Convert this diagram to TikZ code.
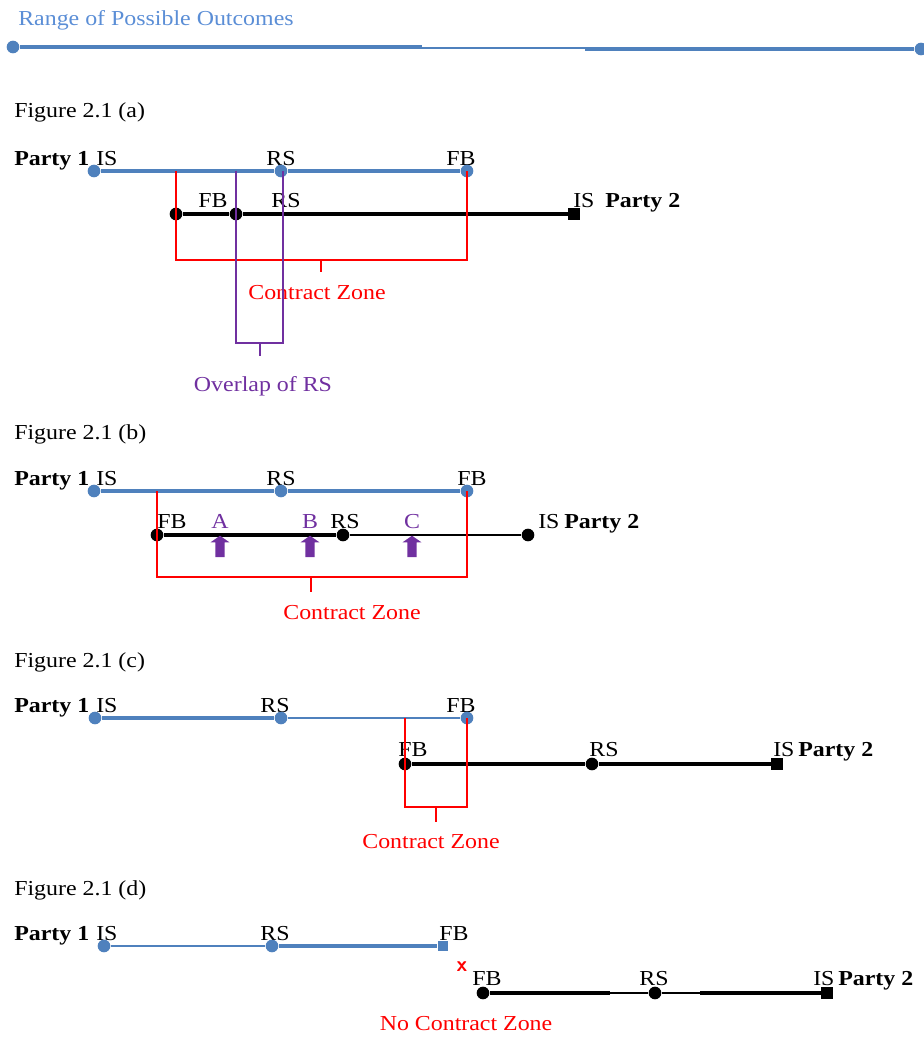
\documentclass[tikz,border=0pt]{standalone}
\usepackage{fontspec}
\setmainfont{Liberation Serif}[FakeStretch=1.12]
\usetikzlibrary{shapes.arrows}
\definecolor{lblue}{HTML}{4F81BD}
\definecolor{tblue}{HTML}{5B8ED6}
\definecolor{ppl}{HTML}{7030A0}
\definecolor{rd}{HTML}{FF0000}
\begin{document}
\begin{tikzpicture}[x=0.75pt,y=-0.75pt,
  txt/.style={inner sep=0pt,anchor=base,font=\fontsize{16}{19}\selectfont},
  ltxt/.style={txt,anchor=base west},
  bold/.style={txt,anchor=base west,font=\fontsize{16}{19}\selectfont\bfseries},
  bdot/.style={circle,fill=lblue,inner sep=0pt,minimum size=9.5pt},
  kdot/.style={circle,fill=black,inner sep=0pt,minimum size=9.5pt},
  bsq/.style={rectangle,fill=lblue,inner sep=0pt,minimum size=8pt},
  ksq/.style={rectangle,fill=black,inner sep=0pt,minimum size=8.5pt},
  bthick/.style={lblue,line width=3.2pt},
  bthin/.style={lblue,line width=1.6pt},
  kthick/.style={black,line width=2.6pt},
  kthin/.style={black,line width=1pt},
  rbr/.style={rd,line width=1.2pt},
  pbr/.style={ppl,line width=1.2pt},
  uparr/.style={single arrow,fill=ppl,draw=none,shape border rotate=90,minimum height=16pt,inner sep=3.3pt,single arrow head extend=3.6pt,single arrow tip angle=110}
]
\useasboundingbox (0,0) rectangle (923,1037);
% Title
\node[ltxt,text=tblue] (title) at (18,26) {Range of Possible Outcomes};
\node[bdot] (t0) at (13,47) {};
\node[bdot] (t3) at (921,49) {};
\coordinate (t1) at (422,47);
\coordinate (t2) at (585,49);
\draw[bthick] (t0) -- (t1);
\draw[lblue,line width=2pt] (422,48) -- (585,48);
\draw[bthick] (t2) -- (t3);

% ---------- (a)
\node[ltxt] (fa) at (14,118) {Figure 2.1 (a)};
\node[bold] (pa1) at (14,166) {Party 1};
\node[ltxt] (aIS1) at (96,166) {IS};
\node[txt] (aRS1) at (281,166) {RS};
\node[txt] (aFB1) at (461,166) {FB};
\node[bdot] (a1) at (94,171) {};
\node[bdot] (a2) at (281,171) {};
\node[bdot] (a3) at (467,171) {};
\draw[bthick] (a1) -- (a2) -- (a3);
\node[txt] (aFB2) at (213,208) {FB};
\node[txt] (aRS2) at (286,208) {RS};
\node[ltxt] (aIS2) at (573,208) {IS};
\node[bold] (pa2) at (605,208) {Party 2};
\node[kdot] (b1) at (176,214) {};
\node[kdot] (b2) at (236,214) {};
\node[ksq] (b3) at (574,214) {};
\draw[kthick] (b1) -- (b2) -- (b3);
% red bracket
\coordinate (ra1) at (176,171);
\coordinate (ra2) at (176,260);
\coordinate (ra3) at (467,260);
\coordinate (rat) at (321,260);
\coordinate (rab) at (321,272);
\draw[rbr] (ra1) -- (ra2) -- (ra3) -- (a3.center);
\draw[rbr] (rat) -- (rab);
\node[txt,text=rd] (caz) at (317,300) {Contract Zone};
% purple bracket
\coordinate (pa) at (236,171);
\coordinate (pb) at (236,343);
\coordinate (pc) at (283,343);
\coordinate (pd) at (283,171);
\coordinate (pt) at (260,343);
\coordinate (ptb) at (260,356);
\draw[pbr] (pa) -- (pb) -- (pc) -- (pd);
\draw[pbr] (pt) -- (ptb);
\node[txt,text=ppl] (ovl) at (263,391) {Overlap of RS};

% ---------- (b)
\node[ltxt] (fb) at (14,439) {Figure 2.1 (b)};
\node[bold] (pb1) at (14,485) {Party 1};
\node[ltxt] (bIS1) at (96,485) {IS};
\node[txt] (bRS1) at (281,485) {RS};
\node[txt] (bFB1) at (472,485) {FB};
\node[bdot] (c1) at (94,491) {};
\node[bdot] (c2) at (281,491) {};
\node[bdot] (c3) at (467,491) {};
\draw[bthick] (c1) -- (c2) -- (c3);
\node[txt] (bFB2) at (172,528) {FB};
\node[txt,text=ppl] (lA) at (220,528) {A};
\node[txt,text=ppl] (lB) at (310,528) {B};
\node[txt] (bRS2) at (345,528) {RS};
\node[txt,text=ppl] (lC) at (412,528) {C};
\node[ltxt] (bIS2) at (538,528) {IS};
\node[bold] (pb2) at (564,528) {Party 2};
\node[kdot] (d1) at (157,535) {};
\node[kdot] (d2) at (343,535) {};
\node[kdot] (d3) at (528,535) {};
\draw[kthick] (d1) -- (d2);
\draw[kthin] (d2) -- (d3);
\node[uparr] (arA) at (220,548) {};
\node[uparr] (arB) at (310,548) {};
\node[uparr] (arC) at (412,548) {};
\coordinate (rb1) at (157,491);
\coordinate (rb2) at (157,577);
\coordinate (rb3) at (467,577);
\coordinate (rbt) at (311,577);
\coordinate (rbb) at (311,592);
\draw[rbr] (rb1) -- (rb2) -- (rb3) -- (c3.center);
\draw[rbr] (rbt) -- (rbb);
\node[txt,text=rd] (cbz) at (352,619) {Contract Zone};

% ---------- (c)
\node[ltxt] (fc) at (14,667) {Figure 2.1 (c)};
\node[bold] (pc1) at (14,712) {Party 1};
\node[ltxt] (cIS1) at (96,712) {IS};
\node[txt] (cRS1) at (275,712) {RS};
\node[txt] (cFB1) at (461,712) {FB};
\node[bdot] (e1) at (95,718) {};
\node[bdot] (e2) at (281,718) {};
\node[bdot] (e3) at (467,718) {};
\draw[bthick] (e1) -- (e2);
\draw[bthin] (e2) -- (e3);
\node[txt] (cFB2) at (413,756) {FB};
\node[txt] (cRS2) at (604,756) {RS};
\node[ltxt] (cIS2) at (773,756) {IS};
\node[bold] (pc2) at (798,756) {Party 2};
\node[kdot] (f1) at (405,764) {};
\node[kdot] (f2) at (592,764) {};
\node[ksq] (f3) at (777,764) {};
\draw[kthick] (f1) -- (f2) -- (f3);
\coordinate (rc1) at (405,718);
\coordinate (rc2) at (405,807);
\coordinate (rc3) at (467,807);
\coordinate (rct) at (436,807);
\coordinate (rcb) at (436,822);
\draw[rbr] (rc1) -- (rc2) -- (rc3) -- (e3.center);
\draw[rbr] (rct) -- (rcb);
\node[txt,text=rd] (ccz) at (431,848) {Contract Zone};

% ---------- (d)
\node[ltxt] (fd) at (14,895) {Figure 2.1 (d)};
\node[bold] (pd1) at (14,940) {Party 1};
\node[ltxt] (dIS1) at (96,940) {IS};
\node[txt] (dRS1) at (275,940) {RS};
\node[txt] (dFB1) at (454,940) {FB};
\node[bdot] (g1) at (104,946) {};
\node[bdot] (g2) at (272,946) {};
\node[bsq] (g3) at (443,946) {};
\draw[bthin] (g1) -- (g2);
\draw[bthick] (g2) -- (g3);
\node[txt,text=rd,font=\fontsize{16}{18}\selectfont\bfseries\sffamily] (xx) at (462,971) {x};
\node[txt] (dFB2) at (487,985) {FB};
\node[txt] (dRS2) at (654,985) {RS};
\node[ltxt] (dIS2) at (813,985) {IS};
\node[bold] (pd2) at (838,985) {Party 2};
\node[kdot] (h1) at (483,993) {};
\node[kdot] (h2) at (655,993) {};
\node[ksq] (h3) at (827,993) {};
\coordinate (hk1) at (610,993);
\coordinate (hk2) at (700,993);
\draw[kthick] (h1) -- (hk1);
\draw[black,line width=1.5pt] (hk1) -- (h2) -- (hk2);
\draw[kthick] (hk2) -- (h3);
\node[txt,text=rd] (ncz) at (466,1030) {No Contract Zone};
\end{tikzpicture}
\end{document}
